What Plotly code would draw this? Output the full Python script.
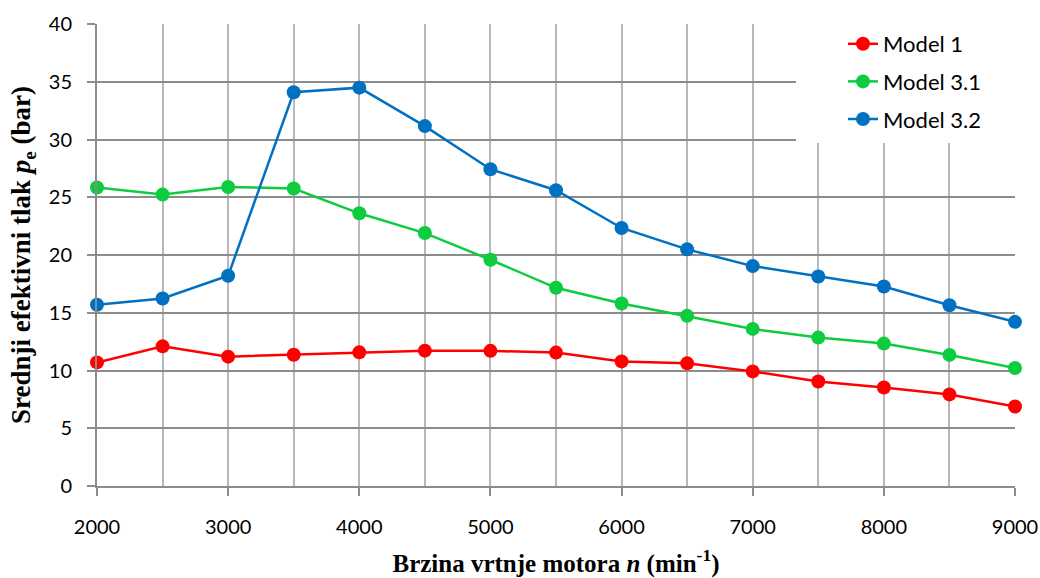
import plotly.graph_objects as go

rpm = [2000, 2500, 3000, 3500, 4000, 4500, 5000, 5500, 6000, 6500, 7000, 7500, 8000, 8500, 9000]
model_1 = [10.7, 12.09, 11.2, 11.37, 11.57, 11.72, 11.7, 11.55, 10.79, 10.62, 9.92, 9.05, 8.53, 7.93, 6.88]
model_3_1 = [25.84, 25.23, 25.89, 25.76, 23.61, 21.9, 19.59, 17.16, 15.8, 14.73, 13.6, 12.85, 12.33, 11.35, 10.22]
model_3_2 = [15.69, 16.23, 18.2, 34.09, 34.49, 31.16, 27.43, 25.61, 22.34, 20.49, 19.04, 18.14, 17.27, 15.65, 14.21]

series = [
    ("Model 1", model_1, "#ff0000"),
    ("Model 3.1", model_3_1, "#0ecc3f"),
    ("Model 3.2", model_3_2, "#0070c0"),
]

fig = go.Figure()
for i, (name, vals, col) in enumerate(series):
    fig.add_trace(go.Scatter(
        x=rpm, y=vals, name=name, mode="lines+markers",
        line=dict(color=col, width=2.5),
        marker=dict(color=col, size=14),
        cliponaxis=False, legendgroup=f"g{i}",
    ))

grid_h = "#8c8c8c"
grid_v = "#b8b8b8"
tick_font = dict(family="Lato, Carlito, sans-serif", size=20, color="#000")
title_font_x = dict(family="Liberation Serif, Times New Roman, serif", size=25, color="#000")
title_font_y = dict(family="Liberation Serif, Times New Roman, serif", size=27, color="#000")

# body margin is removed (see post_script), so figure pixels == window pixels
W, H = 1040, 578
# plot area: x 97..1015, y 24..486
L, R, T, B = 97, W - 1015, 24, H - 486
PW, PH = W - L - R, H - T - B

def px_x(p):
    return (p - L) / PW

def px_y(p):
    return (H - B - p) / PH

# white box behind the legend, covering the gridlines there
fig.add_shape(type="rect", xref="paper", yref="paper",
              x0=px_x(796), x1=px_x(1045), y0=px_y(143), y1=px_y(0),
              fillcolor="white", line=dict(width=0), layer="above")

fig.update_layout(
    width=W, height=H,
    margin=dict(l=L, r=R, t=T, b=B, autoexpand=False),
    paper_bgcolor="white", plot_bgcolor="white",
    showlegend=True,
    legend=dict(
        x=px_x(843), y=px_y(23), xanchor="left", yanchor="top",
        bgcolor="rgba(0,0,0,0)", borderwidth=0,
        font=dict(family="Lato, Carlito, sans-serif", size=22, color="#000"),
        traceorder="grouped", tracegroupgap=6,
    ),
    xaxis=dict(
        range=[2000, 9000], dtick=1000, tick0=2000,
        showgrid=True, gridcolor=grid_v, gridwidth=2,
        minor=dict(dtick=500, showgrid=True, gridcolor=grid_v, gridwidth=2),
        showline=True, linecolor=grid_h, linewidth=2,
        ticks="outside", ticklen=8, tickcolor=grid_h, tickwidth=2,
        tickfont=tick_font, zeroline=False, ticklabelstandoff=14,
        automargin=False,
        title=dict(text="<b>Brzina vrtnje motora <i>n</i> (min<sup>-1</sup>)</b>",
                   font=title_font_x, standoff=17),
    ),
    yaxis=dict(
        range=[0, 40], dtick=5,
        showgrid=True, gridcolor=grid_h, gridwidth=2,
        showline=True, linecolor=grid_h, linewidth=2,
        ticks="outside", ticklen=8, tickcolor=grid_h, tickwidth=2,
        tickfont=tick_font, zeroline=False, ticklabelstandoff=11,
        automargin=False,
        title=dict(text="<b>Srednji efektivni tlak <i>p</i><sub>e</sub> (bar)</b>",
                   font=title_font_y, standoff=10),
    ),
)

fig.write_html(
    "out.html",
    config={"displayModeBar": False},
    post_script="document.body.style.margin='0';document.body.style.overflow='hidden';",
)
